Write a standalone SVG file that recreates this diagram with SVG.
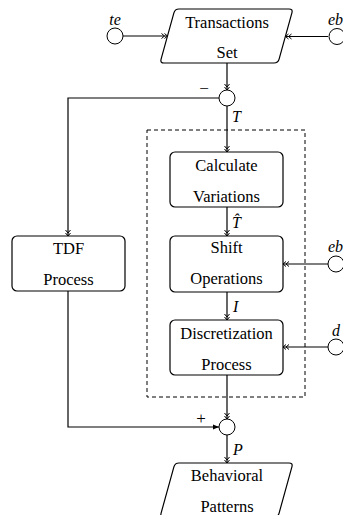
<svg xmlns="http://www.w3.org/2000/svg" width="343" height="515" viewBox="0 0 343 515">
  <style>
    .shape { fill: #fff; stroke: #000; stroke-width: 1.2; }
    .sum { fill: #fff; stroke: #000; stroke-width: 1; }
    .wire { fill: none; stroke: #000; stroke-width: 1.2; }
    .dbl { marker-end: url(#dbl); }
    .one { marker-end: url(#one); }
    .frame { fill: none; stroke: #000; stroke-width: 1; stroke-dasharray: 4 3; }
    text { font-family: "Times New Roman", "Liberation Serif", Times, serif; fill: #000; }
    .txt { font-size: 16.5px; font-style: normal; text-anchor: middle; }
    .var { font-size: 16px; font-style: italic; }
    .sign { font-size: 17px; text-anchor: middle; }
  </style>
  <defs>
    <marker id="dbl" markerUnits="userSpaceOnUse" markerWidth="12" markerHeight="10" refX="0" refY="0" viewBox="-8 -5 12 10" orient="auto">
      <path d="M-6,-2.5 L-3,0 L-6,2.5 M-3,-2.5 L0,0 L-3,2.5" fill="none" stroke="#000" stroke-width="1"/>
    </marker>
    <marker id="one" markerUnits="userSpaceOnUse" markerWidth="12" markerHeight="10" refX="0" refY="0" viewBox="-8 -5 12 10" orient="auto">
      <path d="M-6,-2.5 L0,0 L-6,2.5 Z" fill="#000"/>
    </marker>
  </defs>

  <!-- dashed frame around the variation pipeline -->
  <rect class="frame" x="147" y="130" width="158" height="267"/>

  <g id="connectors">
    <line class="wire dbl" x1="123" y1="36" x2="167.5" y2="36"/>
    <line class="wire dbl" x1="328" y1="36.5" x2="285.5" y2="36.5"/>
    <line class="wire dbl" x1="227" y1="63" x2="227" y2="90"/>
    <polyline class="wire dbl" points="219,98 68,98 68,236"/>
    <line class="wire dbl" x1="227" y1="106" x2="227" y2="152"/>
    <line class="wire dbl" x1="227" y1="207" x2="227" y2="236"/>
    <line class="wire dbl" x1="328" y1="264" x2="283" y2="264"/>
    <line class="wire dbl" x1="227" y1="292" x2="227" y2="320"/>
    <line class="wire dbl" x1="328" y1="347" x2="283" y2="347"/>
    <line class="wire dbl" x1="227" y1="375" x2="227" y2="419"/>
    <polyline class="wire one" points="68,291 68,427 219,427"/>
    <line class="wire dbl" x1="227" y1="435" x2="227" y2="463"/>
  </g>

  <g id="te">
    <circle class="sum" cx="115" cy="36" r="8"/>
    <text class="var" x="115" y="25" text-anchor="middle">te</text>
  </g>
  <g id="eb-top">
    <circle class="sum" cx="337" cy="36.5" r="8"/>
    <text class="var" x="328" y="25">eb</text>
  </g>

  <g id="transactions">
    <path class="shape" d="M179,9 L289,9 Q293,9 291.9,12.9 L279.1,59.1 Q278,63 274,63 L164,63 Q160,63 161.1,59.1 L173.9,12.9 Q175,9 179,9 Z"/>
    <text class="txt" x="227" y="28">Transactions</text>
    <text class="txt" x="227" y="58">Set</text>
  </g>

  <g id="diff">
    <circle class="sum" cx="227" cy="98" r="8"/>
    <text class="sign" x="204" y="94">−</text>
  </g>
  <text class="var" x="232" y="122">T</text>

  <g id="tdf">
    <rect class="shape" x="12" y="236" width="113" height="55" rx="5"/>
    <text class="txt" x="68.5" y="254">TDF</text>
    <text class="txt" x="68.5" y="285">Process</text>
  </g>

  <g id="calc">
    <rect class="shape" x="170" y="152" width="113" height="55" rx="5"/>
    <text class="txt" x="226.5" y="171">Calculate</text>
    <text class="txt" x="226.5" y="202">Variations</text>
  </g>
  <text class="var" x="232" y="228">T̂</text>

  <g id="shift">
    <rect class="shape" x="170" y="236" width="113" height="56" rx="5"/>
    <text class="txt" x="226.5" y="253">Shift</text>
    <text class="txt" x="226.5" y="284">Operations</text>
  </g>
  <g id="eb-mid">
    <circle class="sum" cx="336" cy="264" r="8"/>
    <text class="var" x="328" y="252">eb</text>
  </g>
  <text class="var" x="233" y="312">I</text>

  <g id="disc">
    <rect class="shape" x="170" y="320" width="113" height="55" rx="5"/>
    <text class="txt" x="226.5" y="339">Discretization</text>
    <text class="txt" x="226.5" y="370">Process</text>
  </g>
  <g id="d">
    <circle class="sum" cx="336" cy="347" r="8"/>
    <text class="var" x="332" y="336">d</text>
  </g>

  <g id="sum">
    <circle class="sum" cx="227" cy="427" r="8"/>
    <text class="sign" x="201" y="424">+</text>
  </g>
  <text class="var" x="233" y="455">P</text>

  <g id="patterns">
    <path class="shape" d="M179,463 L289,463 Q293,463 291.9,466.9 L279.1,513.1 Q278,517 274,517 L164,517 Q160,517 161.1,513.1 L173.9,466.9 Q175,463 179,463 Z"/>
    <text class="txt" x="227" y="481">Behavioral</text>
    <text class="txt" x="227" y="512">Patterns</text>
  </g>
</svg>
